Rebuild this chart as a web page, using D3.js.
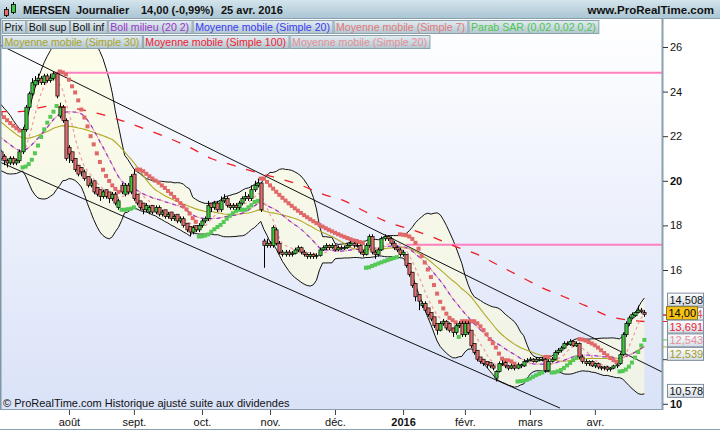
<!DOCTYPE html>
<html><head><meta charset="utf-8">
<script src="https://cdn.jsdelivr.net/npm/d3@7/dist/d3.min.js"></script>
<style>
html,body{margin:0;padding:0;background:#fff;}
svg{display:block;font-family:"Liberation Sans",Arial,Helvetica,sans-serif;}
</style></head><body>
<svg id="chart" width="720" height="430"></svg>
<script>
// ---------------- DATA ----------------
const firstDate = "2015-07-01";
const holidays = ["2015-12-25","2016-01-01","2016-03-25","2016-03-28"];

const opens = [
21.7,21.3,21.1,20.9,20.8,21.0,20.8,20.9,21.3,22.3,
23.3,23.9,24.3,24.5,24.6,24.4,24.7,24.5,24.6,24.8,
22.9,23.3,22.7,21.5,21.3,21.0,20.7,20.6,20.4,20.2,
19.8,20.0,19.7,19.6,19.3,19.6,19.5,19.2,19.4,18.8,
19.8,19.4,19.8,19.5,20.3,19.4,19.1,19.0,18.7,18.6,
18.9,18.6,18.8,18.5,18.7,18.4,18.6,18.3,18.5,18.2,
18.3,18.1,17.95,17.7,18.0,17.8,18.0,18.2,18.3,19.0,
18.8,19.0,18.7,19.1,19.2,18.9,18.8,18.9,18.8,19.0,
19.2,19.3,19.2,19.6,19.8,19.9,17.3,17.1,17.2,17.1,
17.8,17.2,16.8,16.7,16.8,16.7,16.75,16.9,17.0,16.8,
16.7,16.6,16.7,16.6,16.65,16.9,17.0,17.1,17.0,17.1,
16.9,17.0,16.95,17.0,17.1,17.2,17.1,17.1,16.8,16.7,
17.1,17.5,16.8,16.7,16.9,17.4,17.5,17.4,17.2,17.0,
16.9,16.7,16.7,16.3,15.9,15.4,14.9,14.4,14.5,14.3,
14.1,13.9,13.6,13.3,13.6,13.7,13.6,13.4,13.2,13.5,
13.6,13.1,13.6,13.3,12.7,12.4,12.1,12.0,11.9,11.85,
11.7,11.15,11.45,11.8,11.85,11.7,11.6,11.7,11.6,11.75,
11.7,11.9,11.95,12.0,11.9,12.0,11.95,12.0,11.5,11.9,
12.0,12.3,12.4,12.5,12.7,12.65,12.8,12.6,12.7,12.1,
11.9,11.8,11.9,11.7,11.8,11.65,11.6,11.65,11.55,11.6,
11.7,11.8,12.2,13.1,13.6,13.85,13.95,14.1,14.2,14.1];

const highs = [
21.8,21.4,21.2,21.0,21.1,21.1,21.0,21.4,22.4,23.4,
24.0,24.6,24.7,24.8,24.7,24.8,24.8,24.8,24.9,24.85,
23.5,23.4,22.8,21.6,21.3,21.0,20.7,20.6,20.5,20.2,
20.1,20.0,19.7,19.6,19.6,19.6,19.5,19.5,19.5,19.2,
19.9,19.9,19.9,20.3,20.5,19.4,19.1,19.0,19.0,18.9,
18.9,18.9,18.9,18.7,18.7,18.6,18.6,18.5,18.5,18.4,
18.4,18.1,17.95,18.0,18.0,18.1,18.3,18.4,19.1,19.0,
19.1,19.1,19.3,19.4,19.3,19.0,19.0,19.0,19.1,19.3,
19.5,19.4,19.8,20.0,20.1,19.95,17.4,17.4,17.3,18.0,
17.9,17.3,16.9,16.9,16.9,16.85,17.0,17.1,17.05,16.9,
16.75,16.8,16.75,16.75,17.0,17.1,17.2,17.15,17.2,17.15,
17.1,17.1,17.1,17.2,17.3,17.25,17.2,17.15,16.9,17.2,
17.6,17.6,16.9,17.0,17.5,17.6,17.55,17.5,17.3,17.1,
17.0,16.9,16.7,16.3,15.9,15.4,14.9,14.6,14.6,14.3,
14.1,13.9,13.6,13.7,13.8,13.75,13.65,13.4,13.6,13.7,
13.7,13.7,13.7,13.3,12.7,12.4,12.1,12.0,11.9,11.85,
11.8,11.5,11.9,11.95,11.9,11.75,11.8,11.75,11.85,11.8,
12.0,12.05,12.1,12.05,12.1,12.05,12.1,12.05,12.0,12.1,
12.4,12.5,12.6,12.8,12.8,12.9,12.85,12.8,12.75,12.2,
12.0,11.95,11.95,11.85,11.85,11.7,11.7,11.7,11.65,11.75,
11.8,12.3,13.2,13.7,13.95,14.1,14.15,14.4,14.3,14.2];

const lows = [
21.2,20.9,20.7,20.6,20.7,20.7,20.7,20.8,21.2,22.2,
23.2,23.8,24.2,24.3,24.3,24.3,24.4,24.4,24.5,23.7,
22.8,22.6,20.9,20.8,20.8,20.4,20.2,20.2,20.0,19.7,
19.7,19.4,19.3,19.1,19.2,19.2,19.0,19.1,18.9,18.7,
19.4,19.3,19.4,19.4,19.1,18.9,18.7,18.5,18.6,18.5,
18.5,18.5,18.4,18.4,18.3,18.3,18.2,18.2,18.1,18.1,
17.9,17.7,17.5,17.6,17.7,17.7,17.9,18.1,18.2,18.6,
18.7,18.6,18.6,19.0,18.8,18.7,18.7,18.7,18.7,18.9,
19.1,19.1,19.1,19.5,19.7,18.6,16.1,17.0,17.0,17.0,
17.1,16.7,16.6,16.6,16.6,16.6,16.7,16.8,16.7,16.6,
16.5,16.5,16.5,16.5,16.6,16.85,16.9,16.9,16.95,16.85,
16.85,16.9,16.9,16.95,17.05,17.0,17.0,16.7,16.6,16.65,
17.0,16.7,16.5,16.6,16.85,17.3,17.3,17.1,16.9,16.8,
16.6,16.6,16.1,15.7,15.2,14.6,14.2,14.3,14.1,13.9,
13.7,13.4,13.1,13.25,13.5,13.3,13.2,13.0,13.1,13.4,
13.0,13.0,13.1,12.5,12.2,11.9,11.8,11.7,11.6,11.6,
11.5,11.0,11.4,11.7,11.6,11.5,11.55,11.5,11.55,11.6,
11.65,11.85,11.9,11.85,11.85,11.9,11.9,11.4,11.45,11.85,
11.95,12.2,12.3,12.45,12.6,12.6,12.55,12.55,12.0,11.8,
11.7,11.7,11.65,11.6,11.55,11.5,11.5,11.45,11.45,11.55,
11.6,11.75,12.15,13.0,13.5,13.8,13.9,14.05,14.05,13.9];

const closes = [
21.3,21.0,20.9,20.8,21.0,20.8,20.9,21.3,22.3,23.3,
23.9,24.4,24.5,24.6,24.4,24.7,24.5,24.6,24.8,23.8,
23.3,22.7,21.0,21.2,20.9,20.5,20.3,20.4,20.1,19.8,
19.9,19.5,19.4,19.3,19.5,19.3,19.2,19.4,19.0,19.1,
19.5,19.8,19.5,20.2,19.2,19.0,18.8,18.7,18.9,18.8,
18.6,18.8,18.5,18.6,18.4,18.5,18.3,18.4,18.2,18.3,
18.0,17.8,17.7,17.9,17.8,18.0,18.2,18.3,18.9,18.8,
19.0,18.7,19.1,19.2,18.9,18.8,18.9,18.8,19.0,19.2,
19.3,19.2,19.6,19.8,19.9,18.7,17.1,17.2,17.1,17.9,
17.2,16.8,16.7,16.8,16.7,16.75,16.9,17.0,16.8,16.7,
16.6,16.7,16.6,16.65,16.9,17.0,17.1,17.0,17.1,16.9,
17.0,16.95,17.0,17.1,17.2,17.1,17.1,16.8,16.7,17.1,
17.5,16.8,16.7,16.9,17.4,17.5,17.4,17.2,17.0,16.9,
16.7,16.8,16.2,15.8,15.3,14.8,14.6,14.5,14.2,14.0,
13.8,13.5,13.3,13.6,13.7,13.4,13.3,13.2,13.5,13.6,
13.1,13.6,13.2,12.6,12.3,12.0,11.9,11.8,11.75,11.7,
11.6,11.45,11.8,11.8,11.7,11.6,11.7,11.6,11.75,11.7,
11.9,11.95,12.0,11.9,12.0,11.95,12.0,11.5,11.9,12.0,
12.3,12.4,12.5,12.7,12.65,12.8,12.6,12.7,12.1,11.9,
11.8,11.9,11.7,11.8,11.65,11.6,11.65,11.55,11.6,11.7,
11.75,12.2,13.1,13.6,13.85,14.0,14.1,14.2,14.14,14.0];

// closes of June 2015 (off-screen, only feed the moving averages / Bollinger)
const warmupCloses = [
24.3,24.4,24.2,24.5,24.3,24.0,24.2,24.1,23.9,24.0,
23.8,23.4,23.2,23.0,22.9,23.0,22.7,22.5,22.6,22.3,
22.0,21.9,21.6,21.5,21.3,21.2,21.4,21.1,21.3,21.0];

// Simple 100 moving average (bar index -> value)
const ma100Index  = [0,7,17,33,48,62,69,76,83,98,105,112,119,126,134,141,148,155,162,169,176,183,190,197,206,209];
const ma100Values = [23.1,23.1,23.35,23.0,22.3,21.5,21.0,20.7,20.4,19.8,19.4,19.1,18.6,18.15,17.8,17.45,17.05,16.7,16.2,15.7,15.2,14.8,14.4,13.95,13.72,13.69];

// Parabolic SAR state at the first visible bar
const sarStart = {sar:23.15, ep:20.6, af:0.06, up:false};
const sarStep = 0.02, sarMax = 0.2;

// user-drawn horizontal levels (start bar, price)
const levelStart = [18, 132];
const levelPrice = [24.85, 17.13];

// trend channel (bar index, price) pairs
const channelUpper = [[0.7, 26.09],[214.7, 11.43]];
const channelLower = [[0.7, 20.84],[181.7, 9.81]];

// axis ticks
const monthKeys   = ["2015-08","2015-09","2015-10","2015-11","2015-12","2016-01","2016-02","2016-03","2016-04"];
const monthLabels = ["août","sept.","oct.","nov.","déc.","2016","févr.","mars","avr."];
const priceTicks  = [10,12,14,16,18,20,22,24,26];
const priceMinor  = [11,13,15,17,19,21,23,25];

// last-value labels on the price scale
const labelValues = [14.508, 14.00, 13.691, 12.543, 12.539, 10.578];
const labelTexts  = ["14,508","14,00","13,691","12,543","12,539","10,578"];

// header & legends
const headerTexts = ["MERSEN","Journalier","14,00 (-0,99%)","25 avr. 2016"];
const legendRow1 = ["Prix","Boll sup","Boll inf","Boll milieu (20 2)","Moyenne mobile (Simple 20)","Moyenne mobile (Simple 7)","Parab SAR (0,02 0,02 0,2)"];
const legendRow2 = ["Moyenne mobile (Simple 30)","Moyenne mobile (Simple 100)","Moyenne mobile (Simple 20)"];

// ---------------- COMPUTATION ----------------
const n = closes.length;
function tradingDays(start, count){
  const out=[]; let d=new Date(start+"T00:00:00Z");
  while(out.length<count){
    const wd=d.getUTCDay(); const s=d.toISOString().slice(0,10);
    if(wd!==0 && wd!==6 && holidays.indexOf(s)<0) out.push(s);
    d=new Date(d.getTime()+86400000);
  }
  return out;
}
const dates = tradingDays(firstDate, n);
const monthIdx = monthKeys.map(k=>dates.findIndex(s=>s.startsWith(k)));

const WU = warmupCloses.length;
const allC = warmupCloses.concat(closes);
function sma(len,k){let s=0;for(let j=k-len+1;j<=k;j++)s+=allC[j];return s/len;}
function sdev(len,k,m){let s=0;for(let j=k-len+1;j<=k;j++)s+=(allC[j]-m)*(allC[j]-m);return Math.sqrt(s/len);}
const ind = d3.range(n).map(i=>{
  const k=i+WU, m20=sma(20,k), s=sdev(20,k,m20);
  return {i, ma7:sma(7,k), ma20:m20, up:m20+2*s, lo:m20-2*s, ma30:sma(30,k)};
});

// Parabolic SAR
const sarPts=[];
{
  let {sar,ep,af,up}=sarStart;
  for(let i=0;i<n;i++){
    if(i>0){
      sar = sar + af*(ep-sar);
      if(up){
        sar=Math.min(sar,lows[i-1],lows[Math.max(0,i-2)]);
        if(lows[i]<sar){up=false;sar=ep;ep=lows[i];af=sarStep;}
        else if(highs[i]>ep){ep=highs[i];af=Math.min(af+sarStep,sarMax);}
      }else{
        sar=Math.max(sar,highs[i-1],highs[Math.max(0,i-2)]);
        if(highs[i]>sar){up=true;sar=ep;ep=highs[i];af=sarStep;}
        else if(lows[i]<ep){ep=lows[i];af=Math.min(af+sarStep,sarMax);}
      }
    }
    sarPts.push({i,sar,up});
  }
}

// ---------------- DRAWING ----------------
const svg=d3.select("#chart");
const P={left:1,right:662,top:19,bottom:409};
const x=d3.scaleLinear().domain([0,n-1+5.7]).range([-2.2,P.right]);
const y=d3.scaleLinear().domain([10,26]).range([403.8,47]);

// label positions on the price scale (resolved so that boxes don't collide)
let ly=labelValues.map(v=>y(v));
for(let it=0;it<200;it++){for(let k=1;k<ly.length;k++){const d=ly[k]-ly[k-1];if(d<13.5){const p=(13.5-d)/2;ly[k]+=p;ly[k-1]-=p;}}}
const covered=v=>ly.some(c=>Math.abs(c-y(v))<12);

const defs=svg.append("defs");
function vgrad(id,stops){const g=defs.append("linearGradient").attr("id",id).attr("x1",0).attr("y1",0).attr("x2",0).attr("y2",1);
  stops.forEach(([o,c])=>g.append("stop").attr("offset",o).attr("stop-color",c));}
vgrad("bgPlot",[[0,"#ffffff"],[1,"#dae2f8"]]);
vgrad("bgHead",[[0,"#d3e4ec"],[1,"#a9c4d2"]]);
vgrad("bgLeg",[[0,"#e3edf2"],[1,"#b2c6d0"]]);
vgrad("bgLab",[[0,"#ffffff"],[1,"#d3dce6"]]);
defs.append("clipPath").attr("id","clipPlot").append("rect")
  .attr("x",P.left).attr("y",P.top).attr("width",P.right-P.left).attr("height",P.bottom-P.top);

svg.append("rect").attr("width",720).attr("height",430).attr("fill","#fff");
svg.append("rect").attr("x",P.left).attr("y",P.top).attr("width",P.right-P.left).attr("height",P.bottom-P.top).attr("fill","url(#bgPlot)");

const g=svg.append("g").attr("clip-path","url(#clipPlot)");

// Bollinger
g.append("path").datum(ind).attr("fill","#fbfbdc").attr("fill-opacity",0.62)
  .attr("d",d3.area().x(d=>x(d.i)).y0(d=>y(d.lo)).y1(d=>y(d.up)));
["up","lo"].forEach(k=>g.append("path").datum(ind).attr("fill","none").attr("stroke","#111").attr("stroke-width",1)
  .attr("d",d3.line().x(d=>x(d.i)).y(d=>y(d[k]))));

// horizontal levels
levelPrice.forEach((p,k)=>g.append("line").attr("x1",x(levelStart[k])).attr("x2",P.right).attr("y1",y(p)).attr("y2",y(p))
  .attr("stroke","#ff80c0").attr("stroke-width",2));

// channel
[channelUpper,channelLower].forEach(c=>g.append("line").attr("x1",x(c[0][0])).attr("y1",y(c[0][1])).attr("x2",x(c[1][0])).attr("y2",y(c[1][1]))
  .attr("stroke","#111").attr("stroke-width",1));

// MA100
g.append("path").datum(ma100Index.map((i,k)=>({i,v:ma100Values[k]}))).attr("fill","none")
  .attr("stroke","#ee1c24").attr("stroke-width",1.3).attr("stroke-dasharray","9,11")
  .attr("d",d3.line().x(d=>x(d.i)).y(d=>y(d.v)).curve(d3.curveMonotoneX));
// MA30
g.append("path").datum(ind).attr("fill","none").attr("stroke","#b2a825").attr("stroke-width",1.1)
  .attr("d",d3.line().x(d=>x(d.i)).y(d=>y(d.ma30)));
// MA20 (pink) and Boll milieu (purple)
g.append("path").datum(ind).attr("fill","none").attr("stroke","#eaa0a8").attr("stroke-width",1.1).attr("stroke-dasharray","3,5").attr("stroke-dashoffset",4)
  .attr("d",d3.line().x(d=>x(d.i)).y(d=>y(d.ma20)));
g.append("path").datum(ind).attr("fill","none").attr("stroke","#9a35c8").attr("stroke-width",1.3).attr("stroke-dasharray","4,4")
  .attr("d",d3.line().x(d=>x(d.i)).y(d=>y(d.ma20)));
// MA7
g.append("path").datum(ind).attr("fill","none").attr("stroke","#f09aa2").attr("stroke-width",1.2).attr("stroke-dasharray","3,3")
  .attr("d",d3.line().x(d=>x(d.i)).y(d=>y(d.ma7)));

// SAR
g.selectAll("rect.sar").data(sarPts).join("rect").attr("class","sar")
  .attr("x",d=>x(d.i)-2).attr("y",d=>y(d.sar)-2).attr("width",4).attr("height",4)
  .attr("fill",d=>d.up?"#55c855":"#e06868");

// candles
const cg=g.selectAll("g.c").data(d3.range(n)).join("g").attr("class","c");
cg.append("line").attr("x1",i=>Math.round(x(i))+0.5).attr("x2",i=>Math.round(x(i))+0.5)
  .attr("y1",i=>y(highs[i])).attr("y2",i=>y(lows[i])).attr("stroke","#000").attr("stroke-width",1);
cg.append("rect").attr("x",i=>Math.round(x(i))-1.1).attr("width",3.2)
  .attr("y",i=>y(Math.max(opens[i],closes[i])))
  .attr("height",i=>Math.max(0.8,Math.abs(y(opens[i])-y(closes[i]))))
  .attr("fill",i=>closes[i]>=opens[i]?"#3fc83f":"#e46e6e").attr("stroke","#000").attr("stroke-width",0.7);

// borders
svg.append("line").attr("x1",0.75).attr("x2",0.75).attr("y1",P.top).attr("y2",P.bottom).attr("stroke","#7d97a7").attr("stroke-width",1.5);
svg.append("line").attr("x1",0).attr("x2",P.right).attr("y1",P.bottom+0.5).attr("y2",P.bottom+0.5).attr("stroke","#8aa0ae").attr("stroke-width",1);
svg.append("line").attr("x1",P.right+0.5).attr("x2",P.right+0.5).attr("y1",P.top).attr("y2",P.bottom+1).attr("stroke","#8aa0ae").attr("stroke-width",2);
svg.append("line").attr("x1",0).attr("x2",720).attr("y1",429.5).attr("y2",429.5).attr("stroke","#8aa0ae").attr("stroke-width",1);

// right axis (labels hidden under a value box are not drawn)
const ax=svg.append("g").attr("transform",`translate(${P.right+1},0)`);
ax.call(d3.axisRight(y).tickValues(priceMinor).tickSize(5).tickFormat(""));
ax.call(d3.axisRight(y).tickValues(priceTicks).tickSize(5).tickPadding(2).tickFormat(d=>covered(d)?"":d3.format("d")(d)));
ax.select(".domain").remove();
ax.selectAll("line").attr("stroke","#333");
ax.selectAll("text").attr("font-size",11).attr("fill","#111").attr("font-family","Liberation Sans, Arial, sans-serif")
  .attr("font-weight",d=>(d===20||d===10)?"bold":"normal");

// bottom axis
const bx=svg.append("g").attr("transform",`translate(0,${P.bottom+1})`);
bx.call(d3.axisBottom(x).tickValues(monthIdx).tickSize(5).tickPadding(3).tickFormat((d,k)=>monthLabels[k]));
bx.select(".domain").remove();
bx.selectAll("line").attr("stroke","#444");
bx.selectAll("text").attr("font-size",11).attr("fill","#111").attr("font-family","Liberation Sans, Arial, sans-serif")
  .attr("font-weight",(d,k)=>monthLabels[k]==="2016"?"bold":"normal");

// copyright
svg.append("text").attr("x",3).attr("y",407).attr("font-size",11).attr("fill","#111")
  .text("© ProRealTime.com  Historique ajusté suite aux dividendes");

// header
svg.append("rect").attr("x",0).attr("y",0).attr("width",720).attr("height",19).attr("fill","url(#bgHead)");
svg.append("line").attr("x1",0).attr("x2",720).attr("y1",18.5).attr("y2",18.5).attr("stroke","#8aa0ae");
svg.append("line").attr("x1",6.5).attr("x2",6.5).attr("y1",7).attr("y2",17).attr("stroke","#000");
svg.append("rect").attr("x",4.5).attr("y",9.5).attr("width",4).attr("height",6).attr("fill","#e46e6e").attr("stroke","#000").attr("stroke-width",0.8);
svg.append("line").attr("x1",13.5).attr("x2",13.5).attr("y1",2).attr("y2",14).attr("stroke","#000");
svg.append("rect").attr("x",11.5).attr("y",4.5).attr("width",4).attr("height",8).attr("fill","#3fc83f").attr("stroke","#000").attr("stroke-width",0.8);
const hx=[23,76,141,221];
headerTexts.forEach((t,k)=>svg.append("text").attr("x",hx[k]).attr("y",13.5).attr("font-size",11).attr("font-weight","bold").attr("fill","#111").text(t));
svg.append("text").attr("x",714).attr("y",13.5).attr("text-anchor","end").attr("font-size",11.5).attr("font-weight","bold").attr("fill","#111").text("www.ProRealTime.com");

// legends
const col1=["#111","#111","#111","#9a35c8","#3a3af0","#e07878","#4cc64c"];
const col2=["#aaa22a","#ee2233","#e49098"];
function legendRow(items,cols,yTop){
  let cx=2;
  items.forEach((t,k)=>{
    const gg=svg.append("g");
    const r=gg.append("rect").attr("y",yTop+0.5).attr("height",13).attr("fill","url(#bgLeg)").attr("stroke","#8ba1ad");
    const tx=gg.append("text").attr("x",cx+2.5).attr("y",yTop+11).attr("font-size",10.6).attr("fill",cols[k]).text(t);
    const w=tx.node().getComputedTextLength()+5;
    r.attr("x",cx+0.5).attr("width",w);
    cx+=w+1;
  });
}
legendRow(legendRow1,col1,20);
legendRow(legendRow2,col2,35);

// price labels on the scale
const labCols=["#111","#000","#ee2233","#e49098","#a59d24","#111"];
const lastI=ind[n-1], lastS=sarPts[n-1];
[[lastI.ma7,"#ee3333"],[ma100Values[ma100Values.length-1],"#ee2233"],[lastS.sar,"#55c855"],[lastI.ma30,"#b2a825"]]
  .forEach(([v,c])=>svg.append("line").attr("x1",P.right+1).attr("x2",P.right+7).attr("y1",y(v)).attr("y2",y(v)).attr("stroke",c));
// MA7 label mostly hidden behind the price label: only its last digit shows
{
  const cy=ly[1]+1;
  const s=d3.format(".3f")(lastI.ma7).replace(".",",");
  svg.append("rect").attr("x",667.5).attr("y",cy-6.5).attr("width",36).attr("height",13).attr("fill","url(#bgLab)").attr("stroke","#7f8f9f");
  svg.append("text").attr("x",702.5).attr("y",cy+4).attr("text-anchor","end").attr("font-size",11).attr("fill","#e05050").text(s.slice(-1));
}
labelValues.forEach((v,k)=>{
  const cy=ly[k], gold=(k===1);
  svg.append("rect").attr("x",gold?666.5:667.5).attr("y",cy-6.5).attr("width",gold?31:36).attr("height",13)
    .attr("fill",gold?"#f7c218":"url(#bgLab)").attr("stroke",gold?"#8c7a2c":"#7f8f9f");
  svg.append("text").attr("x",gold?668.5:669.5).attr("y",cy+4).attr("font-size",11).attr("fill",labCols[k]).text(labelTexts[k]);
});
</script>
</body></html>
